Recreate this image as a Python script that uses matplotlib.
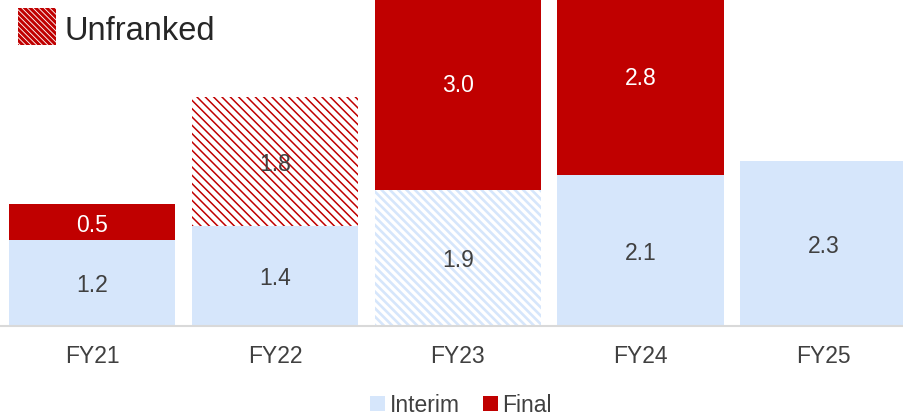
import matplotlib
matplotlib.use("Agg")
import matplotlib.pyplot as plt
from matplotlib.patches import Patch, Rectangle
import matplotlib.transforms as mtransforms
import numpy as np

categories = ["FY21", "FY22", "FY23", "FY24", "FY25"]
interim = [1.2, 1.4, 1.9, 2.1, 2.3]
final = [0.5, 1.8, 3.0, 2.8, 0.0]
interim_unfranked = [False, False, True, False, False]
final_unfranked = [False, True, False, False, False]

BLUE = "#D6E6FB"
RED = "#C00000"
TXT = "#404040"
HATCH = "\\" * 4

plt.rcParams["font.family"] = ["Liberation Sans", "DejaVu Sans"]

fig = plt.figure(figsize=(9.04, 4.19), dpi=100)
ax = fig.add_axes([0, 1 - 326 / 419, 1, 326 / 419])
lab_tr = mtransforms.offset_copy(ax.transData, fig=fig, x=0, y=-3, units="dots")

x = np.arange(len(categories))
w = 0.91
for i in x:
    if interim_unfranked[i]:
        with plt.rc_context({"hatch.linewidth": 1.9}):
            ax.bar(i, interim[i], w, facecolor="white", edgecolor=BLUE, hatch=HATCH, linewidth=0)
    else:
        ax.bar(i, interim[i], w, color=BLUE, linewidth=0)
    ax.text(i, interim[i] / 2, f"{interim[i]:.1f}", ha="center", va="center",
            fontsize=16.5, color=TXT, transform=lab_tr)
    if final[i] > 0:
        if final_unfranked[i]:
            with plt.rc_context({"hatch.linewidth": 1.1}):
                ax.bar(i, final[i], w, bottom=interim[i], facecolor="white", edgecolor=RED,
                       hatch=HATCH, linewidth=0)
            tc = TXT
        else:
            ax.bar(i, final[i], w, bottom=interim[i], color=RED, linewidth=0)
            tc = "white"
        ax.text(i, interim[i] + final[i] / 2, f"{final[i]:.1f}", ha="center", va="center",
                fontsize=16.5, color=tc, transform=lab_tr)

ax.set_xlim(-0.503, 4.44)
ax.set_ylim(0, 326 / 71.7)
ax.set_xticks(x)
ax.set_xticklabels(categories, fontsize=16.5, color=TXT)
ax.tick_params(axis="x", length=0, pad=14)
ax.set_yticks([])
for s in ["top", "left", "right"]:
    ax.spines[s].set_visible(False)
ax.spines["bottom"].set_color("#D9D9D9")
ax.spines["bottom"].set_linewidth(1.5)

# Unfranked legend (top-left)
with plt.rc_context({"hatch.linewidth": 2.2}):
    fig.patches.append(Rectangle((18 / 904, 1 - 45 / 419), 38 / 904, 37 / 419,
                                 transform=fig.transFigure, facecolor="white",
                                 edgecolor=RED, hatch="\\" * 6, linewidth=0))
fig.text(65 / 904, 1 - 31 / 419, "Unfranked", fontsize=23.5, color="#262626",
         ha="left", va="center")

handles = [Patch(facecolor=BLUE, label="Interim"), Patch(facecolor=RED, label="Final")]
fig.legend(handles=handles, loc="center", bbox_to_anchor=(0.51, 1 - 405 / 419), ncol=2,
           frameon=False, fontsize=16.5, handlelength=0.65, handleheight=0.65,
           handletextpad=0.2, columnspacing=1.0, labelcolor=TXT)

fig.savefig("out.png", dpi=100)
